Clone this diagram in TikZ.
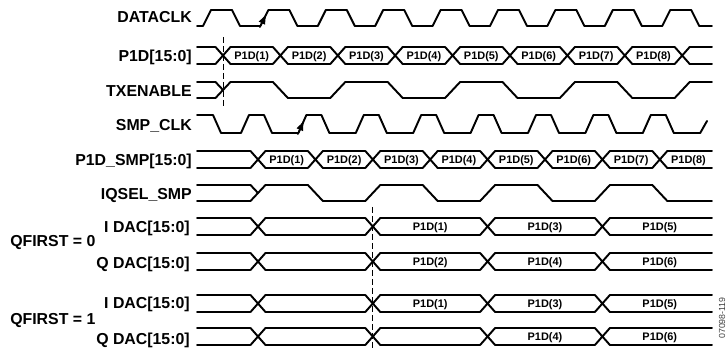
\documentclass[tikz,border=0pt]{standalone}
\usepackage{fontspec}
\setmainfont{Liberation Sans}
\usetikzlibrary{arrows.meta}
\newcommand{\drawbus}[4]{% #1 top y, #2 bottom y, #3 crossings, #4 last crossing
  \foreach \x [remember=\x as \lx (initially 189.5)] in {#3} {
    \draw[sig] (\lx+7.5,#1) -- (\x-7.5,#1) (\lx+7.5,#2) -- (\x-7.5,#2)
      (\x-7.5,#1) -- (\x+7.5,#2) (\x-7.5,#2) -- (\x+7.5,#1);
  }
  \draw[sig] (#4+7.5,#1) -- (712,#1) (#4+7.5,#2) -- (712,#2);
}
\begin{document}
\begin{tikzpicture}[x=0.75pt,y=-0.75pt,
  sig/.style={line width=1.45pt, line cap=round, line join=round},
  lbl/.style={font=\fontsize{11.9}{12}\selectfont\bfseries, anchor=east, inner sep=0pt, text height=8.5pt, text depth=0pt},
  qlbl/.style={lbl, anchor=west},
  dlbl/.style={font=\fontsize{8.2}{9}\selectfont\bfseries, inner sep=0pt, text height=5.9pt, text depth=0pt},
  vdashed/.style={line width=0.75pt, dash pattern=on 4.5pt off 2.25pt},
  clkarrow/.style={-{Latex[length=8pt,width=5.5pt]}, line width=1pt},
  fignum/.style={font=\fontsize{6.6}{7}\selectfont, text=black!75, rotate=90, inner sep=0pt}]
\useasboundingbox (0,0) rectangle (728,352);

% ---- labels
\node[lbl] (l1) at (192,17) {DATACLK};
\node[lbl] (l2) at (192,56) {P1D[15:0]};
\node[lbl] (l3) at (192,91) {TXENABLE};
\node[lbl] (l4) at (192,125) {SMP\_CLK};
\node[lbl] (l5) at (192,160) {P1D\_SMP[15:0]};
\node[lbl] (l6) at (192,194) {IQSEL\_SMP};
\node[lbl] (l7) at (190,227) {I DAC[15:0]};
\node[lbl] (l8) at (190,263) {Q DAC[15:0]};
\node[lbl] (l9) at (190,303) {I DAC[15:0]};
\node[lbl] (l10) at (190,339) {Q DAC[15:0]};
\node[qlbl] (q0) at (10,241) {QFIRST = 0};
\node[qlbl] (q1) at (10,319) {QFIRST = 1};

% ---- DATACLK
\draw[sig] (197,26) \foreach \k in {0,...,8} { -- (203+57.4*\k,26) -- (211+57.4*\k,10) -- (232+57.4*\k,10) -- (240+57.4*\k,26) } -- (712,26);
\coordinate (ck1) at (259.6,27.6); \coordinate (ck2) at (266.6,13.6);
\draw[clkarrow] (ck1) -- (ck2);

% ---- P1D[15:0]
\drawbus{47}{64}{223,280.4,337.8,395.2,452.6,510,567.4,624.8,682.2}{682.2}
\foreach \k in {1,...,8} \node[dlbl] (p\k) at (223+57.4*\k-28.7,55.5) {P1D(\k)};

% ---- TXENABLE
\draw[sig] (197,82) -- (215.5,82) -- (223,90);
\draw[sig] (197,98) -- (215.5,98) -- (230.5,82)
  \foreach \k in {1,3,5,7} { -- (223+57.4*\k-7.5,82) -- (223+57.4*\k+7.5,98) -- (280.4+57.4*\k-7.5,98) -- (280.4+57.4*\k+7.5,82) } -- (712,82);

% ---- SMP_CLK
\draw[sig] (197,115) -- (213,115) -- (221,133)
  \foreach \k in {0,...,7} { -- (241+57.4*\k,133) -- (249+57.4*\k,115) -- (264+57.4*\k,115) -- (272+57.4*\k,133) } -- (700.2,133) -- (707,121);
\coordinate (sk1) at (297.6,134.6); \coordinate (sk2) at (304.2,120);
\draw[clkarrow] (sk1) -- (sk2);

% ---- P1D_SMP[15:0]
\drawbus{151}{168}{258,315.4,372.8,430.2,487.6,545,602.4,659.8}{659.8}
\foreach \k in {1,...,8} \node[dlbl] (s\k) at (258+57.4*\k-28.7,159.5) {P1D(\k)};

% ---- IQSEL_SMP
\draw[sig] (197,185) -- (250.5,185) -- (258,193);
\draw[sig] (197,201) -- (250.5,201) -- (265.5,185)
  \foreach \k in {1,3,5} { -- (258+57.4*\k-7.5,185) -- (258+57.4*\k+7.5,201) -- (315.4+57.4*\k-7.5,201) -- (315.4+57.4*\k+7.5,185) }
  -- (652.3,185) -- (667.3,201) -- (712,201);

% ---- DAC rows
\drawbus{218}{235}{258,372.8,487.6,602.4}{602.4}
\drawbus{253}{270}{258,372.8,487.6,602.4}{602.4}
\drawbus{295}{312}{258,372.8,487.6,602.4}{602.4}
\drawbus{328}{345}{258,372.8,487.6,602.4}{602.4}
\node[dlbl] (a1) at (430.2,226.5) {P1D(1)};
\node[dlbl] (a3) at (545,226.5) {P1D(3)};
\node[dlbl] (a5) at (659.8,226.5) {P1D(5)};
\node[dlbl] (b2) at (430.2,261.5) {P1D(2)};
\node[dlbl] (b4) at (545,261.5) {P1D(4)};
\node[dlbl] (b6) at (659.8,261.5) {P1D(6)};
\node[dlbl] (c1) at (430.2,303.5) {P1D(1)};
\node[dlbl] (c3) at (545,303.5) {P1D(3)};
\node[dlbl] (c5) at (659.8,303.5) {P1D(5)};
\node[dlbl] (d4) at (545,336.5) {P1D(4)};
\node[dlbl] (d6) at (659.8,336.5) {P1D(6)};

% ---- dashed markers
\coordinate (m1a) at (223,37); \coordinate (m1b) at (223,108);
\coordinate (m2a) at (372.8,207); \coordinate (m2b) at (372.8,351);
\draw[vdashed] (m1a) -- (m1b);
\draw[vdashed] (m2a) -- (m2b);

% ---- figure number
\node[fignum] (fn) at (722,318) {07098-119};
\end{tikzpicture}
\end{document}
